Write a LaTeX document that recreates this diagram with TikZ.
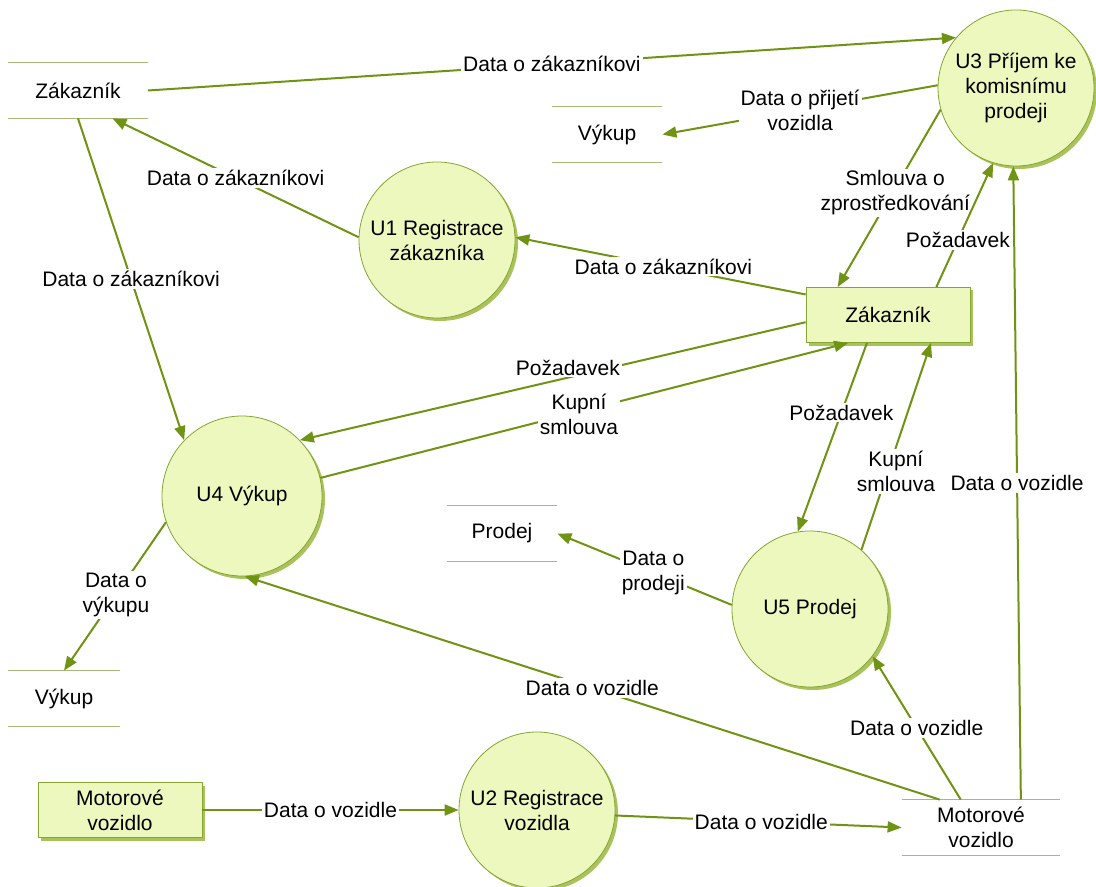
\documentclass[tikz,border=0pt]{standalone}
\usepackage{fontspec}
\setmainfont{Liberation Sans}
\usetikzlibrary{arrows.meta,shadows,positioning}
\definecolor{procfill}{HTML}{EDF8BE}
\definecolor{procline}{HTML}{86A532}
\definecolor{flowgreen}{HTML}{6F9313}
\definecolor{storeline}{HTML}{A7B97A}
\definecolor{shadowgreen}{HTML}{A9C25C}
\tikzset{proc/.style={circle, draw=procline, fill=procfill, minimum size=78pt, inner sep=1pt, align=center, drop shadow={shadow xshift=1.5pt, shadow yshift=-1.5pt, fill=shadowgreen, opacity=1}},
  ext/.style={rectangle, draw=procline, fill=procfill, minimum width=82pt, minimum height=27.5pt, inner sep=1pt, align=center, drop shadow={shadow xshift=1.5pt, shadow yshift=-1.5pt, fill=shadowgreen, opacity=1}},
  store/.style={rectangle, minimum width=#1, minimum height=27.5pt, inner sep=0pt, align=center, append after command={(\tikzlastnode.north west) edge[draw=storeline, line width=0.75pt] (\tikzlastnode.north east) (\tikzlastnode.south west) edge[draw=storeline, line width=0.75pt] (\tikzlastnode.south east)}},
  flow/.style={draw=flowgreen, line width=1pt, -{Triangle[length=7pt,width=5.5pt]}},
  lbl/.style={fill=white, inner sep=1pt, align=center, text=black}}

\begin{document}
\begin{tikzpicture}[x=0.5pt, y=-0.5pt, font=\fontsize{10.5}{12.5}\selectfont]
    \useasboundingbox (0,0) rectangle (1096,887);
    % processes
    \node[proc] (U3) at (1016,88) {U3 Příjem ke\\komisnímu\\prodeji};
    \node[proc] (U1) at (437,240) {U1 Registrace\\zákazníka};
    \node[proc, minimum size=80pt] (U4) at (242,496) {U4 Výkup};
    \node[proc] (U5) at (810,609) {U5 Prodej};
    \node[proc] (U2) at (537,810) {U2 Registrace\\vozidla};
    % entities
    \node[ext] (zk) at (888,315) {Zákazník};
    \node[ext] (mv) at (120,810) {Motorové\\vozidlo};
    % stores
    \node[store=69.5pt] (zs) at (78,90.5) {Zákazník};
    \node[store=55pt] (vs1) at (607,134.5) {Výkup};
    \node[store=55pt] (ps) at (502,533.5) {Prodej};
    \node[store=56pt] (vs2) at (64,698.5) {Výkup};
    \node[store=79pt] (ms) at (981,827.5) {Motorové\\vozidlo};
    % flows
    \path[flow] (zs.east) -- node[lbl] {Data o zákazníkovi} (U3.140);
    \path[flow] (U3.178) -- node[lbl] {Data o přijetí\\vozidla} (vs1.east);
    \path[flow] (U3.196) -- node[lbl, pos=0.47, xshift=1.5pt] {Smlouva o\\zprostředkování} (zk.151);
    \path[flow] (zk.30) -- node[lbl, pos=0.38] {Požadavek} (U3.253);
    \path[flow] (U1.178) -- node[lbl] {Data o zákazníkovi} (zs.-39);
    \path[flow] (zk.166) -- node[lbl, pos=0.49] {Data o zákazníkovi} (U1.2);
    \path[flow] (zs.south) -- node[lbl] {Data o zákazníkovi} (U4.136);
    \path[flow] (zk.185) -- node[lbl, pos=0.47, yshift=5pt] {Požadavek} (U4.44);
    \path[flow] (U4.13) -- node[lbl, pos=0.49, yshift=-1.5pt] {Kupní\\smlouva} (zk.215);
    \path[flow] (zk.233) -- node[lbl, pos=0.37] {Požadavek} (U5.99);
    \path[flow] (U5.49) -- node[lbl, pos=0.38, xshift=4pt] {Kupní\\smlouva} (zk.-33);
    \path[flow] (ms.35) -- node[lbl] {Data o vozidle} (U3.268);
    \path[flow] (U5.177) -- node[lbl, pos=0.45] {Data o\\prodeji} (ps.east);
    \path[flow] (U4.199) -- node[lbl, pos=0.49] {Data o\\výkupu} (vs2.north);
    \path[flow] (ms.146) -- node[lbl] {Data o vozidle} (U4.272);
    \path[flow] (ms.126) -- node[lbl] {Data o vozidle} (U5.-37);
    \path[flow] (mv.east) -- node[lbl] {Data o vozidle} (U2.west);
    \path[flow] (U2.-4) -- node[lbl, pos=0.51] {Data o vozidle} (ms.west);
\end{tikzpicture}
\end{document}
